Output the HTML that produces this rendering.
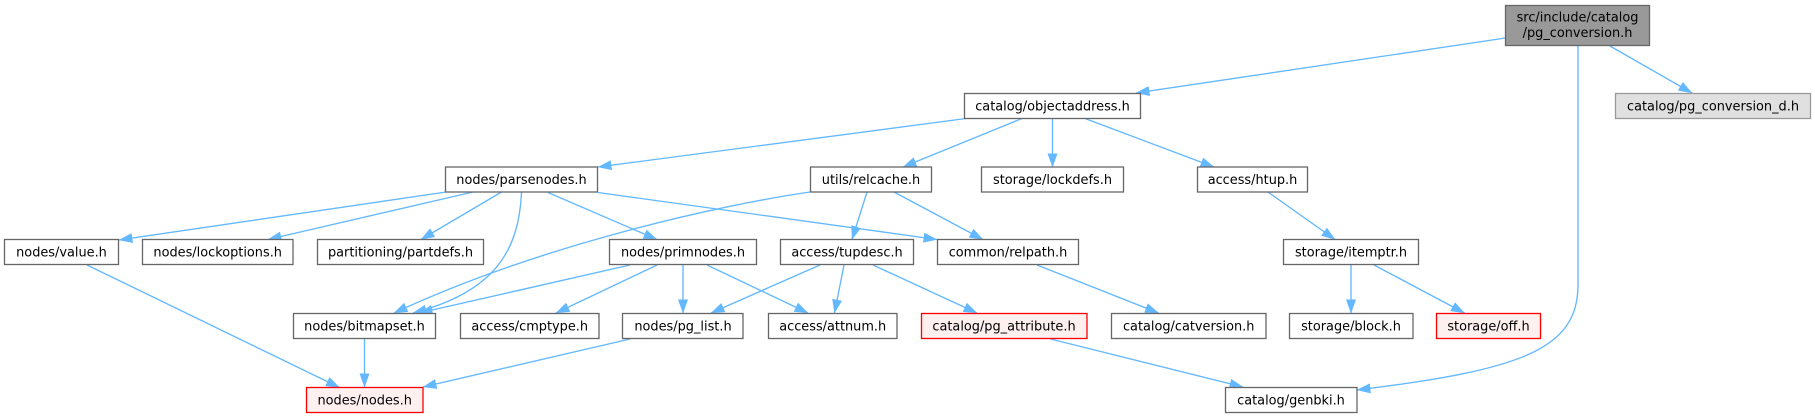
<!DOCTYPE html>
<html>
<head>
<meta charset="utf-8">
<style>
html,body{margin:0;padding:0;background:#fff;}
svg{display:block;}
text{font-family:"DejaVu Sans","Liberation Sans",sans-serif;font-size:12.9px;fill:#000;text-anchor:middle;}
.n{fill:#fff;stroke:#666;stroke-width:1.3;}
.r{fill:#fff0f0;stroke:#ff0000;stroke-width:1.3;}
.e{fill:none;stroke:#63b8ff;stroke-width:1.35;}
</style>
</head>
<body>
<svg width="1815" height="417" viewBox="0 0 1815 417" xmlns="http://www.w3.org/2000/svg">
<defs>
<marker id="a" markerUnits="userSpaceOnUse" markerWidth="14" markerHeight="10" viewBox="0 0 14 10" refX="13.5" refY="5" orient="auto">
<path d="M0,0 L14,5 L0,10 z" fill="#63b8ff"/>
</marker>
</defs>

<g marker-end="url(#a)">
<path class="e" d="M1505.5,38 L1136,93"/>
<path class="e" d="M1610,46 L1692,93"/>
<path class="e" d="M1578,46 L1578,285 C1578,350 1520,370 1357,390"/>
<path class="e" d="M966,118.5 L598,167"/>
<path class="e" d="M1022,118.5 L903,167"/>
<path class="e" d="M1052.5,119 L1052.5,167"/>
<path class="e" d="M1085,118.5 L1214,167"/>
<path class="e" d="M446,192 L119,240"/>
<path class="e" d="M473,192 L268,239.5"/>
<path class="e" d="M501.5,192 L421,239.5"/>
<path class="e" d="M521.5,192.5 C519,250 495,292 413,313"/>
<path class="e" d="M548,192.5 L657,239.5"/>
<path class="e" d="M598,192.5 L937,239.5"/>
<path class="e" d="M810,192 C720,205 540,245 394,313"/>
<path class="e" d="M867,192 L852,239.5"/>
<path class="e" d="M894,192 L983,239.5"/>
<path class="e" d="M1268,192 L1335,239.5"/>
<path class="e" d="M630,265 L419,313"/>
<path class="e" d="M657,265 L556,313"/>
<path class="e" d="M683,265 L683,313"/>
<path class="e" d="M707,265 L808,313"/>
<path class="e" d="M820,265 L711,313"/>
<path class="e" d="M844,265 L834.5,313"/>
<path class="e" d="M873,265 L977,313"/>
<path class="e" d="M1037,265 L1158.5,313"/>
<path class="e" d="M1351,265 L1351,313"/>
<path class="e" d="M1374,265 L1464.5,313"/>
<path class="e" d="M87,265 L339.5,387.5"/>
<path class="e" d="M364.5,339 L364.5,387"/>
<path class="e" d="M630,339 L423,387"/>
<path class="e" d="M1050.5,339 L1243,387"/>
</g>

<!-- main node -->
<rect x="1505.5" y="5.5" width="144" height="40" fill="#999999" stroke="#666" stroke-width="1.3"/>
<text x="1577.5" y="21.5">src/include/catalog</text>
<text x="1577.5" y="37">/pg_conversion.h</text>

<rect x="1615.5" y="93.5" width="195" height="25" fill="#e0e0e0" stroke="#999" stroke-width="1.3"/>
<text x="1713" y="110.5">catalog/pg_conversion_d.h</text>

<rect class="n" x="964.5" y="93.5" width="176" height="25"/>
<text x="1052.5" y="110.5">catalog/objectaddress.h</text>

<!-- row 2 -->
<rect class="n" x="445.5" y="167" width="152" height="25"/>
<text x="521.5" y="184">nodes/parsenodes.h</text>
<rect class="n" x="810.5" y="167" width="121" height="25"/>
<text x="871" y="184">utils/relcache.h</text>
<rect class="n" x="981.5" y="167" width="142" height="25"/>
<text x="1052.5" y="184">storage/lockdefs.h</text>
<rect class="n" x="1197.5" y="167" width="110" height="25"/>
<text x="1252.5" y="184">access/htup.h</text>

<!-- row 3 -->
<rect class="n" x="4.5" y="239.5" width="114" height="25"/>
<text x="61.5" y="256.5">nodes/value.h</text>
<rect class="n" x="142.5" y="239.5" width="150.5" height="25"/>
<text x="217.7" y="256.5">nodes/lockoptions.h</text>
<rect class="n" x="317.5" y="239.5" width="166" height="25"/>
<text x="400.5" y="256.5">partitioning/partdefs.h</text>
<rect class="n" x="609.5" y="239.5" width="147" height="25"/>
<text x="683" y="256.5">nodes/primnodes.h</text>
<rect class="n" x="780.5" y="239.5" width="133" height="25"/>
<text x="847" y="256.5">access/tupdesc.h</text>
<rect class="n" x="937.5" y="239.5" width="141" height="25"/>
<text x="1008" y="256.5">common/relpath.h</text>
<rect class="n" x="1283.5" y="239.5" width="135" height="25"/>
<text x="1351" y="256.5">storage/itemptr.h</text>

<!-- row 4 -->
<rect class="n" x="293.5" y="313.5" width="142" height="25"/>
<text x="364.5" y="330.5">nodes/bitmapset.h</text>
<rect class="n" x="460.5" y="313.5" width="138.5" height="25"/>
<text x="529.7" y="330.5">access/cmptype.h</text>
<rect class="n" x="622.5" y="313.5" width="120.5" height="25"/>
<text x="683" y="330.5">nodes/pg_list.h</text>
<rect class="n" x="768.5" y="313.5" width="128.5" height="25"/>
<text x="832.7" y="330.5">access/attnum.h</text>
<rect class="r" x="921.5" y="313.5" width="165.5" height="25"/>
<text x="1004" y="330.5">catalog/pg_attribute.h</text>
<rect class="n" x="1111.5" y="313.5" width="154.5" height="25"/>
<text x="1188.7" y="330.5">catalog/catversion.h</text>
<rect class="n" x="1289.5" y="313.5" width="123.5" height="25"/>
<text x="1351" y="330.5">storage/block.h</text>
<rect class="r" x="1436.5" y="313.5" width="104" height="25"/>
<text x="1488.5" y="330.5">storage/off.h</text>

<!-- row 5 -->
<rect class="r" x="306.5" y="387.5" width="116.5" height="25"/>
<text x="364.7" y="404.5">nodes/nodes.h</text>
<rect class="n" x="1225.5" y="387.5" width="131.5" height="25"/>
<text x="1291" y="404.5">catalog/genbki.h</text>
</svg>
</body>
</html>
